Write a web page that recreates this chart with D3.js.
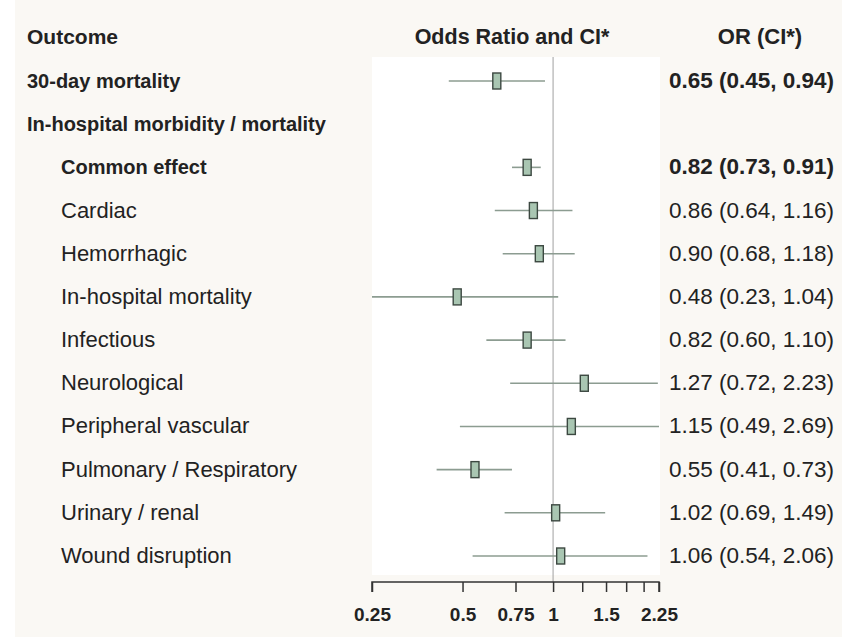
<!DOCTYPE html>
<html>
<head>
<meta charset="utf-8">
<script src="https://cdn.jsdelivr.net/npm/d3@7"></script>
<style>
  body { margin:0; background:#fff; }
  text { font-family: "Liberation Sans", Arial, sans-serif; fill:#222; }
</style>
</head>
<body>
<svg id="chart" width="842" height="637"></svg>
<script>
// forest plot data
var outcomes = ["30-day mortality", "In-hospital morbidity / mortality", "Common effect", "Cardiac",
  "Hemorrhagic", "In-hospital mortality", "Infectious", "Neurological", "Peripheral vascular",
  "Pulmonary / Respiratory", "Urinary / renal", "Wound disruption"];
var orVals = [0.65, null, 0.82, 0.86, 0.90, 0.48, 0.82, 1.27, 1.15, 0.55, 1.02, 1.06];
var ciLow  = [0.45, null, 0.73, 0.64, 0.68, 0.23, 0.60, 0.72, 0.49, 0.41, 0.69, 0.54];
var ciHigh = [0.94, null, 0.91, 1.16, 1.18, 1.04, 1.10, 2.23, 2.69, 0.73, 1.49, 2.06];
var boldRow = [true, true, true, false, false, false, false, false, false, false, false, false];
var indent  = [false, false, true, true, true, true, true, true, true, true, true, true];
var tickVals = [0.25, 0.5, 0.75, 1, 1.25, 1.5, 1.75, 2, 2.25];
var tickLabels = ["0.25", "0.5", "0.75", "1", "", "1.5", "", "", "2.25"];

var svg = d3.select("#chart");
svg.append("rect").attr("x", 15).attr("y", 0).attr("width", 827).attr("height", 637).attr("fill", "#faf8f4");

var x = d3.scaleLog().base(2).domain([0.25, 2.25]).range([372, 659]);
var y = d3.scalePoint().domain(d3.range(outcomes.length)).range([81, 556]);

// white plotting panel
svg.append("rect").attr("x", 372).attr("y", 57).attr("width", 288).attr("height", 518).attr("fill", "#fff");

// headers
svg.append("text").attr("x", 27).attr("y", 44).style("font-weight", "bold").style("font-size", "21px").text("Outcome");
svg.append("text").attr("x", 512).attr("y", 44).attr("text-anchor", "middle").style("font-weight", "bold").style("font-size", "21.5px").text("Odds Ratio and CI*");
svg.append("text").attr("x", 760).attr("y", 44).attr("text-anchor", "middle").style("font-weight", "bold").style("font-size", "22px").text("OR (CI*)");

// reference line at 1
svg.append("line").attr("x1", x(1)).attr("x2", x(1)).attr("y1", 57).attr("y2", 582)
  .attr("stroke", "#a0a0a0").attr("stroke-width", 1);

var rows = svg.selectAll("g.row").data(outcomes).enter().append("g").attr("class", "row");

rows.append("text")
  .attr("x", function(d, i){ return indent[i] ? 61 : 27; })
  .attr("y", function(d, i){ return y(i) + 7; })
  .style("font-weight", function(d, i){ return boldRow[i] ? "bold" : "normal"; })
  .style("font-size", function(d, i){ return boldRow[i] ? "20px" : "22px"; })
  .text(function(d){ return d; });

var withVal = rows.filter(function(d, i){ return orVals[i] != null; });

withVal.append("text")
  .attr("x", 834).attr("y", function(d){ return y(outcomes.indexOf(d)) + 7; })
  .attr("text-anchor", "end")
  .style("font-size", "22.5px")
  .style("font-weight", function(d){ return boldRow[outcomes.indexOf(d)] ? "bold" : "normal"; })
  .text(function(d){
    var i = outcomes.indexOf(d);
    return orVals[i].toFixed(2) + " (" + ciLow[i].toFixed(2) + ", " + ciHigh[i].toFixed(2) + ")";
  });

var clip = function(v){ return Math.max(0.25, Math.min(2.25, v)); };

withVal.append("line")
  .attr("x1", function(d){ return x(clip(ciLow[outcomes.indexOf(d)])); })
  .attr("x2", function(d){ return x(clip(ciHigh[outcomes.indexOf(d)])); })
  .attr("y1", function(d){ return y(outcomes.indexOf(d)); })
  .attr("y2", function(d){ return y(outcomes.indexOf(d)); })
  .attr("stroke", "#8c9c91").attr("stroke-width", 1.6);

withVal.append("rect")
  .attr("x", function(d){ return x(orVals[outcomes.indexOf(d)]) - 4; })
  .attr("y", function(d){ return y(outcomes.indexOf(d)) - 8; })
  .attr("width", 8).attr("height", 16)
  .attr("fill", "#a9c6b2").attr("stroke", "#3c4841").attr("stroke-width", 1.4);

// axis
var axis = d3.axisBottom(x).tickValues(tickVals).tickSize(10)
  .tickFormat(function(d, i){ return tickLabels[i]; });
var ax = svg.append("g").attr("transform", "translate(0,582)").call(axis);
ax.select(".domain").attr("stroke", "#333").attr("stroke-width", 1.5).attr("d", "M372,10V0H659V10");
ax.selectAll(".tick line").attr("stroke", "#333").attr("stroke-width", 1.5);
ax.selectAll(".tick text").attr("y", 26).style("font-size", "19px").style("font-weight", "bold")
  .style("font-family", "Liberation Sans, Arial, sans-serif").attr("fill", "#222");
</script>
</body>
</html>
